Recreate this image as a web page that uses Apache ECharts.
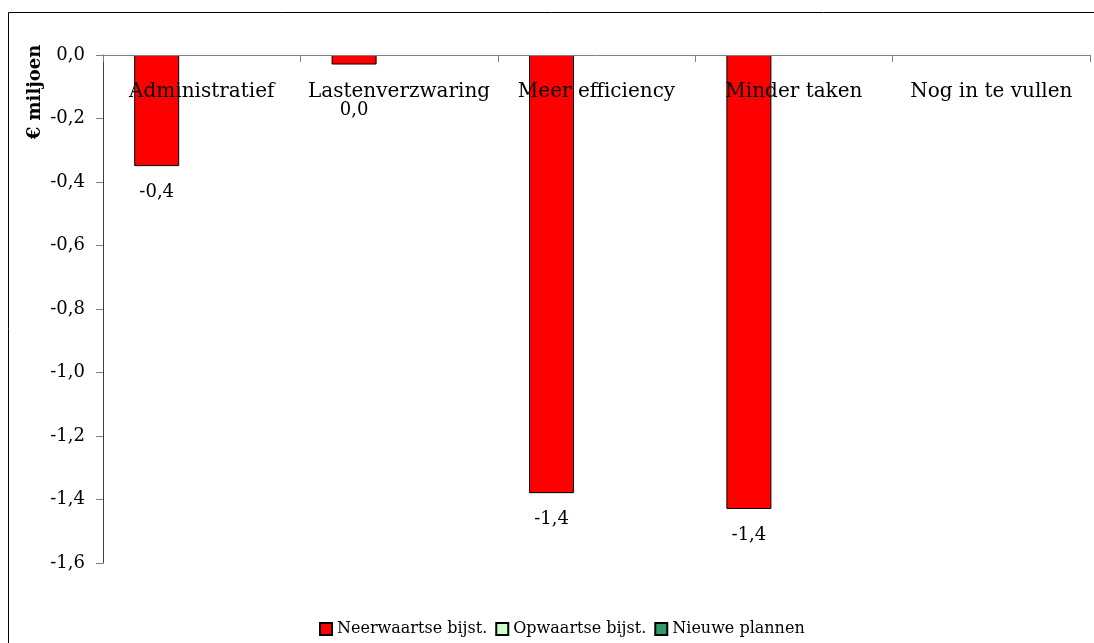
<!DOCTYPE html>
<html>
<head>
<meta charset="utf-8">
<script src="https://cdn.jsdelivr.net/npm/echarts@6/dist/echarts.min.js"></script>
<style>
  html, body { margin: 0; padding: 0; background: #fff; }
  #chart { width: 1094px; height: 643px; }
</style>
</head>
<body>
<div id="chart"></div>
<script>
var categories = ['Administratief', 'Lastenverzwaring', 'Meer efficiency', 'Minder taken', 'Nog in te vullen'];
var seriesNames = ['Neerwaartse bijst.', 'Opwaartse bijst.', 'Nieuwe plannen'];
var neerwaarts = [-0.35, -0.03, -1.38, -1.43, null];
var opwaarts = [null, null, null, null, null];
var nieuwePlannen = [null, null, null, null, null];
var yTicks = { min: -1.6, max: 0, interval: 0.2 };

var font = 'DejaVu Serif';
var colors = ['#FF0000', '#CCFFCC', '#339966'];

// comma decimals, rounding half away from zero like the original
function fmt(v) {
  var r = Math.sign(v) * Math.round(Math.abs(v) * 10) / 10;
  return (r === 0 ? 0 : r).toFixed(1).replace('.', ',');
}

var chart = echarts.init(document.getElementById('chart'), null, { renderer: 'canvas' });

function makeSeries(name, values, color) {
  return {
    name: name,
    type: 'bar',
    barWidth: 45,
    barGap: '0%',
    itemStyle: { color: color, borderColor: '#000', borderWidth: 1 },
    label: {
      show: true,
      position: 'bottom',
      distance: 17,
      fontFamily: font,
      fontSize: 18,
      color: '#000',
      formatter: function (p) { return fmt(p.value); }
    },
    data: values.map(function (v, i) {
      // the second label sits lower in the original
      if (i === 1 && v != null) return { value: v, label: { distance: 37 } };
      return v;
    })
  };
}

var option = {
  animation: false,
  grid: { left: 103, right: 4, top: 55, bottom: 80 },
  legend: {
    data: seriesNames,
    left: 314,
    top: 616,
    icon: 'rect',
    itemWidth: 12,
    itemHeight: 12,
    itemGap: 8,
    textStyle: { fontFamily: font, fontSize: 16, color: '#000' }
  },
  xAxis: {
    type: 'category',
    position: 'top',
    data: categories,
    axisLine: { onZero: false, lineStyle: { color: '#808080', width: 1 } },
    axisTick: { show: true, inside: true, interval: 0, length: 7, lineStyle: { color: '#808080' } },
    axisLabel: { inside: true, interval: 0, margin: 27, fontFamily: font, fontSize: 20, color: '#000' },
    z: 10
  },
  yAxis: {
    type: 'value',
    min: yTicks.min,
    max: yTicks.max,
    interval: yTicks.interval,
    splitLine: { show: false },
    axisLine: { show: true, lineStyle: { color: '#404040', width: 1 } },
    axisTick: { show: true, length: 7, lineStyle: { color: '#808080' } },
    axisLabel: {
      margin: 18, fontFamily: font, fontSize: 18, color: '#000',
      formatter: function (v) { return fmt(v); }
    }
  },
  graphic: [
    {
      type: 'rect',
      shape: { x: 8.5, y: 12.5, width: 1200, height: 700 },
      style: { fill: 'none', stroke: '#000', lineWidth: 1 },
      silent: true
    },
    {
      type: 'text',
      x: 35,
      y: 92,
      rotation: Math.PI / 2,
      style: {
        text: '€ miljoen',
        fontFamily: font,
        fontSize: 18,
        fontWeight: 'bold',
        fill: '#000',
        align: 'center',
        verticalAlign: 'middle'
      }
    }
  ],
  series: [
    makeSeries(seriesNames[0], neerwaarts, colors[0]),
    makeSeries(seriesNames[1], opwaarts, colors[1]),
    makeSeries(seriesNames[2], nieuwePlannen, colors[2])
  ]
};

chart.setOption(option);
</script>
</body>
</html>
